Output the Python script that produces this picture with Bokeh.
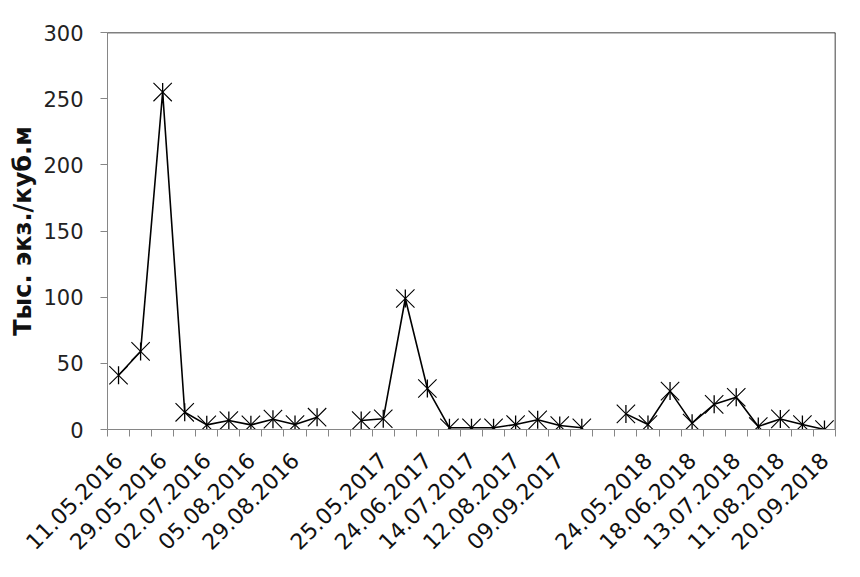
import math
import numpy as np
from bokeh.plotting import figure
from bokeh.models import FixedTicker, Span, ColumnDataSource
from bokeh.embed import file_html
from bokeh.resources import INLINE

# Sampling dates: every second category is labelled; empty categories separate the years
tick_labels = ["11.05.2016", "29.05.2016", "02.07.2016", "05.08.2016", "29.08.2016", "",
               "25.05.2017", "24.06.2017", "14.07.2017", "12.08.2017", "09.09.2017", "",
               "24.05.2018", "18.06.2018", "13.07.2018", "11.08.2018", "20.09.2018"]

# Abundance, thousand ind./m3 (NaN = empty category between seasons)
values = [41, 59, 255, 13, 3.5, 6.8, 3.5, 7.8, 3.8, 9.3, np.nan,
          6.8, 8.1, 99, 31, 1.3, 1.3, 1.3, 3.8, 7.3, 3, 1.3, np.nan,
          11.8, 3.8, 29, 4.8, 19, 24.4, 2.3, 8, 3.8, 0]

y_ticks = [0, 50, 100, 150, 200, 250, 300]

n = len(values)
x = list(range(n))
src = ColumnDataSource(dict(x=x, y=values))

p = figure(width=852, height=568, x_range=(-0.5, n - 0.5), y_range=(0, 300),
           output_backend="svg", toolbar_location=None,
           min_border_left=107, min_border_right=17, min_border_top=32, min_border_bottom=139)

p.xgrid.visible = False
p.ygrid.visible = False
p.outline_line_color = None
p.background_fill_color = "white"

font = "DejaVu Sans"
axis_gray = "#868686"

# X axis
p.xaxis.ticker = FixedTicker(ticks=list(range(0, n, 2)), minor_ticks=[i - 0.5 for i in range(n + 1)])
p.xaxis.major_label_overrides = {i * 2: lbl for i, lbl in enumerate(tick_labels)}
p.xaxis.major_tick_line_color = None
p.xaxis.major_tick_out = 7
p.xaxis.major_tick_in = 0
p.xaxis.minor_tick_line_color = axis_gray
p.xaxis.minor_tick_out = 7
p.xaxis.minor_tick_in = 0
p.xaxis.axis_line_color = axis_gray
p.xaxis.major_label_orientation = math.pi / 4
p.xaxis.major_label_text_font = font
p.xaxis.major_label_text_font_size = "22px"
p.xaxis.major_label_text_color = "#111111"
p.xaxis.major_label_standoff = 20

# Y axis
p.yaxis.ticker = FixedTicker(ticks=y_ticks)
p.yaxis.minor_tick_line_color = None
p.yaxis.major_tick_line_color = axis_gray
p.yaxis.major_tick_out = 7
p.yaxis.major_tick_in = 0
p.yaxis.axis_line_color = axis_gray
p.yaxis.major_label_text_font = font
p.yaxis.major_label_text_font_size = "21px"
p.yaxis.major_label_text_color = "#222222"
p.yaxis.major_label_standoff = 17
p.yaxis.axis_label = "Тыс. экз./куб.м"
p.yaxis.axis_label_text_font = font
p.yaxis.axis_label_text_font_size = "24px"
p.yaxis.axis_label_text_font_style = "bold"
p.yaxis.axis_label_text_color = "#111111"
p.yaxis.axis_label_standoff = 3

# Top and right border of the plot area
p.add_layout(Span(location=300, dimension="width", line_color="black", line_width=1.5))
p.add_layout(Span(location=n - 0.5, dimension="height", line_color="black", line_width=1.5))

# Series
p.line("x", "y", source=src, line_color="black", line_width=1.6)
p.scatter("x", "y", source=src, marker="x", size=26, line_color="black", line_width=1.1)
p.scatter("x", "y", source=src, marker="dash", size=18, angle=math.pi / 2,
          line_color="black", line_width=1.3)

open("out.html", "w").write(file_html(p, INLINE))
